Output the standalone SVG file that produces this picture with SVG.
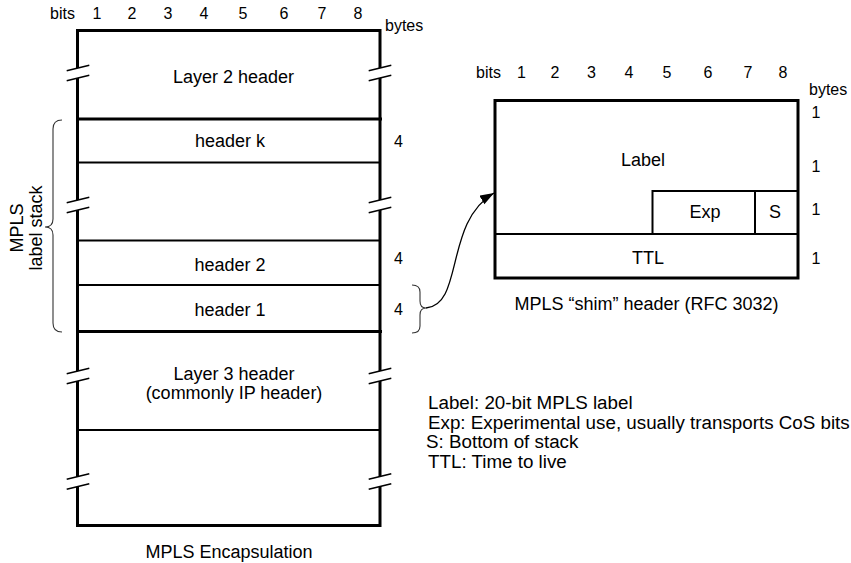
<svg xmlns="http://www.w3.org/2000/svg" width="851" height="563" viewBox="0 0 851 563">
<style>
text{font-family:"Liberation Sans",Arial,Helvetica,sans-serif;fill:#000}
.sm{font-size:16px}
.lb{font-size:18px}
.lg{font-size:18.8px}
.c{text-anchor:middle}
.thk{stroke:#000;stroke-width:3;fill:none}
.thn{stroke:#000;stroke-width:2;fill:none}
.br{stroke:#000;stroke-width:1.5;fill:none}
.brace{stroke:#333;stroke-width:1.1;fill:none}
.conn{stroke:#000;stroke-width:1.3;fill:none}
</style>
<defs>
<g id="brk">
<polygon points="-2.6,-4.3 2.6,-5.7 2.6,4.3 -2.6,5.7" fill="#fff"/>
<path class="br" d="M-11.3,-2.15 L11.3,-7.85 M-11.3,7.85 L11.3,2.15"/>
</g>
<marker id="ah" markerUnits="userSpaceOnUse" markerWidth="16" markerHeight="12" refX="14" refY="5" orient="auto">
<path d="M0,0 L14,5 L0,10 z" fill="#000"/>
</marker>
</defs>

<g id="encap-scale">
<text class="sm" x="50" y="19">bits</text>
<text class="sm c" x="97" y="19">1</text>
<text class="sm c" x="132" y="19">2</text>
<text class="sm c" x="168" y="19">3</text>
<text class="sm c" x="204" y="19">4</text>
<text class="sm c" x="243" y="19">5</text>
<text class="sm c" x="284" y="19">6</text>
<text class="sm c" x="322" y="19">7</text>
<text class="sm c" x="358" y="19">8</text>
<text class="sm" x="385" y="31">bytes</text>
</g>

<g id="mpls-encapsulation">
<rect class="thk" x="77.5" y="30.5" width="302.5" height="495"/>
<text class="lb c" x="229" y="558">MPLS Encapsulation</text>
</g>

<g id="layer2-header">
<line class="thk" x1="77.5" y1="119" x2="382" y2="119"/>
<text class="lb c" x="233.5" y="83">Layer 2 header</text>
</g>

<g id="header-k">
<line class="thn" x1="77.5" y1="162.5" x2="380" y2="162.5"/>
<text class="lb c" x="230" y="147">header k</text>
<text class="sm c" x="398.5" y="147">4</text>
</g>

<g id="header-2">
<line class="thn" x1="77.5" y1="240.5" x2="380" y2="240.5"/>
<text class="lb c" x="230" y="271">header 2</text>
<text class="sm c" x="398.5" y="264">4</text>
</g>

<g id="header-1">
<line class="thn" x1="77.5" y1="285" x2="380" y2="285"/>
<line class="thk" x1="77.5" y1="331.5" x2="382" y2="331.5"/>
<text class="lb c" x="230" y="316">header 1</text>
<text class="sm c" x="398.5" y="315">4</text>
</g>

<g id="layer3-header">
<line class="thn" x1="77.5" y1="430" x2="380" y2="430"/>
<text class="lb c" x="234" y="380">Layer 3 header</text>
<text class="lb c" x="234" y="399">(commonly IP header)</text>
</g>

<g id="breaks">
<use href="#brk" x="78" y="73"/>
<use href="#brk" x="380" y="73"/>
<use href="#brk" x="78" y="205"/>
<use href="#brk" x="380" y="205"/>
<use href="#brk" x="78" y="376"/>
<use href="#brk" x="380" y="376"/>
<use href="#brk" x="78" y="481.5"/>
<use href="#brk" x="380" y="481.5"/>
</g>

<g id="label-stack">
<path class="brace" d="M62,120 Q53,120 53,129 L53,219 Q53,227 45,227 Q53,227 53,235 L53,323 Q53,332 62,332"/>
<text class="lb c" transform="translate(23,228) rotate(-90)">MPLS</text>
<text class="lb c" transform="translate(41.5,228) rotate(-90)">label stack</text>
</g>

<g id="header1-brace">
<path class="brace" d="M412,285 Q420,285 420,292 L420,301 Q420,308 426,308 Q420,308 420,315 L420,326 Q420,333 412,333"/>
</g>

<g id="shim-scale">
<text class="sm" x="476" y="78">bits</text>
<text class="sm c" x="521.5" y="78">1</text>
<text class="sm c" x="555" y="78">2</text>
<text class="sm c" x="591.5" y="78">3</text>
<text class="sm c" x="629" y="78">4</text>
<text class="sm c" x="667" y="78">5</text>
<text class="sm c" x="708" y="78">6</text>
<text class="sm c" x="748" y="78">7</text>
<text class="sm c" x="783" y="78">8</text>
<text class="sm" x="809" y="95">bytes</text>
<text class="sm c" x="816" y="118">1</text>
<text class="sm c" x="816" y="172">1</text>
<text class="sm c" x="816" y="215">1</text>
<text class="sm c" x="816" y="264">1</text>
</g>

<g id="shim-header">
<rect class="thk" x="495" y="100.5" width="303" height="177.5"/>
<text class="lb c" x="646.5" y="310">MPLS “shim” header (RFC 3032)</text>
</g>

<g id="shim-label">
<text class="lb c" x="643" y="166">Label</text>
</g>

<g id="shim-exp">
<polyline class="thn" points="652.5,234 652.5,191 798,191"/>
<text class="lb c" x="705" y="218">Exp</text>
</g>

<g id="shim-s">
<line class="thn" x1="755" y1="191" x2="755" y2="234"/>
<text class="lb c" x="775" y="218">S</text>
</g>

<g id="shim-ttl">
<line class="thn" x1="495" y1="234" x2="798" y2="234"/>
<text class="lb c" x="648" y="264">TTL</text>
</g>

<g id="connectors">
<path class="conn" d="M426,308 C464,305 444,222 494,193" marker-end="url(#ah)"/>
</g>

<g id="legend">
<text class="lg" x="428" y="409">Label: 20-bit MPLS label</text>
<text class="lg" x="428" y="428.5">Exp: Experimental use, usually transports CoS bits</text>
<text class="lg" x="426" y="448">S: Bottom of stack</text>
<text class="lg" x="428" y="468">TTL: Time to live</text>
</g>
</svg>
